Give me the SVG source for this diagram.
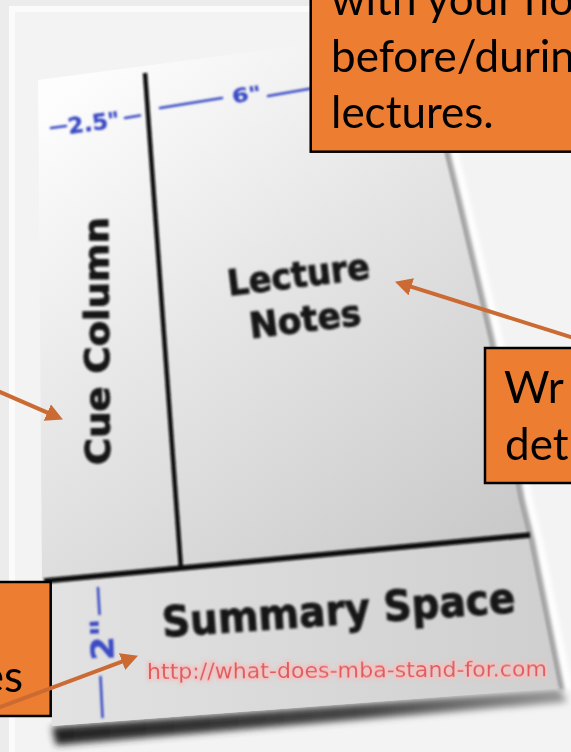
<svg xmlns="http://www.w3.org/2000/svg" width="571" height="752" viewBox="0 0 571 752">
<defs>
<style>
.box{fill:#ED7D31;stroke:#000;stroke-width:2.5}
.bt{font-family:Lato,"Open Sans","Liberation Sans",sans-serif;font-size:44px;fill:#000}
.pt{font-family:"DejaVu Sans",Verdana,sans-serif;font-weight:bold;fill:#141414;stroke:#141414;stroke-width:0.9}
.dim{font-family:"DejaVu Sans",Verdana,sans-serif;font-weight:bold;fill:#3b4bc4;stroke:#3b4bc4;stroke-width:0.4}
.dl{stroke:#3b4bc4;stroke-width:2.6;stroke-linecap:round;fill:none}
.conn{stroke:#CB6A33;stroke-width:4;fill:none}
.rule{stroke:#0a0a0a;fill:none;stroke-linecap:butt}
</style>
<marker id="ah" markerUnits="userSpaceOnUse" markerWidth="19" markerHeight="19" refX="12" refY="9" orient="auto"><path d="M0,0 L17,9 L0,18 Z" fill="#CB6A33"/></marker>
<linearGradient id="paperG" gradientUnits="userSpaceOnUse" x1="90" y1="70" x2="480" y2="560">
<stop offset="0" stop-color="#fdfdfd"/>
<stop offset="0.45" stop-color="#e5e5e5"/>
<stop offset="1" stop-color="#c9c9c9"/>
</linearGradient>
<linearGradient id="sumG" gradientUnits="userSpaceOnUse" x1="50" y1="0" x2="560" y2="0">
<stop offset="0" stop-color="#e2e2e2"/>
<stop offset="1" stop-color="#cfcfcf"/>
</linearGradient>
<linearGradient id="shG" gradientUnits="userSpaceOnUse" x1="50" y1="0" x2="570" y2="0">
<stop offset="0" stop-color="#222"/>
<stop offset="0.6" stop-color="#444"/>
<stop offset="1" stop-color="#999"/>
</linearGradient>
<filter id="soft" x="-10%" y="-20%" width="120%" height="140%"><feGaussianBlur stdDeviation="0.8"/></filter>
<filter id="b2" x="-20%" y="-20%" width="140%" height="140%"><feGaussianBlur stdDeviation="2.2"/></filter>
<filter id="b4" x="-20%" y="-50%" width="140%" height="200%"><feGaussianBlur stdDeviation="3.5"/></filter>
<filter id="glow" x="-5%" y="-40%" width="110%" height="180%">
<feMorphology in="SourceAlpha" operator="dilate" radius="1.5" result="d"/>
<feGaussianBlur in="d" stdDeviation="1.5" result="g"/>
<feFlood flood-color="#f2c2c2" flood-opacity="0.9"/>
<feComposite in2="g" operator="in" result="pink"/>
<feGaussianBlur in="SourceGraphic" stdDeviation="0.6" result="s"/>
<feMerge><feMergeNode in="pink"/><feMergeNode in="s"/></feMerge>
</filter>
</defs>

<rect width="571" height="752" fill="#ececec"/>
<rect x="12" y="9" width="600" height="800" fill="#f3f3f3" stroke="#fbfbfb" stroke-width="6"/>

<g id="paper">
<path d="M52,727 L560,689 L567,702 L56,745 Z" fill="url(#shG)" filter="url(#b4)"/>
<path d="M421,30 L449,155 L460,200 L493,340 L523,500 L533,540 L563,690" stroke="#9a9a9a" stroke-width="6" fill="none" filter="url(#b2)"/>
<path d="M427,30 L455,155 L466,200 L499,340 L529,500 L539,540 L569,690" stroke="#ffffff" stroke-width="7" fill="none" filter="url(#b2)"/>
<polygon points="38,80 418,30 446,155 457,200 490,340 520,500 530,540 560,688 52,726 48,582 42,578" fill="url(#paperG)"/>
<polygon points="46,580 529,535 530,540 560,688 52,726 48,582" fill="url(#sumG)"/>
<path d="M418,30 L446,155 L457,200 L490,340 L520,500 L530,540 L560,688" stroke="#8e8e8e" stroke-width="1.6" fill="none" filter="url(#soft)"/>
<g filter="url(#soft)">
<line class="rule" x1="145" y1="73" x2="181" y2="569" stroke-width="4.5"/>
<line class="rule" x1="44" y1="581" x2="530" y2="535" stroke-width="5.5"/>
</g>
<g id="dimensions" filter="url(#soft)">
<line class="dl" x1="51" y1="128" x2="66" y2="126"/>
<text class="dim" font-size="22" transform="translate(69,134) rotate(-8)" textLength="52" lengthAdjust="spacingAndGlyphs">2.5"</text>
<line class="dl" x1="125" y1="118" x2="140" y2="115.5"/>
<line class="dl" x1="160" y1="108" x2="222" y2="98"/>
<text class="dim" font-size="19" transform="translate(233,103) rotate(-8)" textLength="29" lengthAdjust="spacingAndGlyphs">6"</text>
<line class="dl" x1="268" y1="96" x2="314" y2="88"/>
<line class="dl" x1="98" y1="588" x2="99.5" y2="614"/>
<text class="dim" font-size="31" text-anchor="middle" transform="translate(113,639) rotate(-92)" textLength="42" lengthAdjust="spacingAndGlyphs">2"</text>
<line class="dl" x1="100.5" y1="677" x2="102.5" y2="717"/>
</g>
<g id="cue-column" filter="url(#soft)">
<text class="pt" font-size="34" text-anchor="middle" transform="translate(109,341) rotate(-90.5)" textLength="248" lengthAdjust="spacingAndGlyphs">Cue Column</text>
</g>
<g id="lecture-notes" filter="url(#soft)" transform="translate(300,287) rotate(-7)">
<text class="pt" font-size="35" text-anchor="middle" x="0" y="0" textLength="143" lengthAdjust="spacingAndGlyphs">Lecture</text>
<text class="pt" font-size="35" text-anchor="middle" x="1" y="45" textLength="112" lengthAdjust="spacingAndGlyphs">Notes</text>
</g>
<g id="summary-space">
<text class="pt" font-size="42" filter="url(#soft)" transform="translate(163,637) rotate(-4)" textLength="354" lengthAdjust="spacingAndGlyphs">Summary Space</text>
<text font-family="'DejaVu Sans',Verdana,sans-serif" font-size="22" fill="#e05a5a" filter="url(#glow)" transform="translate(147,679) rotate(-0.4)" textLength="400" lengthAdjust="spacingAndGlyphs">http://what-does-mba-stand-for.com</text>
</g>
</g>

<g id="box-top">
<rect class="box" x="310.7" y="-5" width="275" height="156.7"/>
<text class="bt" x="331" y="15">with your no</text>
<text class="bt" x="331" y="72">before/durin</text>
<text class="bt" x="331" y="128">lectures.</text>
</g>
<g id="box-right">
<rect class="box" x="485" y="348" width="100" height="135"/>
<text class="bt" x="504" y="403">Wr</text>
<text class="bt" x="505" y="460">det</text>
</g>
<g id="box-left">
<rect class="box" x="-5" y="582" width="55.7" height="134"/>
<text class="bt" x="23" y="692" text-anchor="end">es</text>
</g>

<g id="connectors">
<line class="conn" x1="575" y1="338.3" x2="399.8" y2="283.2" marker-end="url(#ah)"/>
<line class="conn" x1="-4" y1="390.3" x2="58.3" y2="417.4" marker-end="url(#ah)"/>
<line class="conn" x1="-4" y1="708.5" x2="133.3" y2="657.4" marker-end="url(#ah)"/>
</g>
</svg>
